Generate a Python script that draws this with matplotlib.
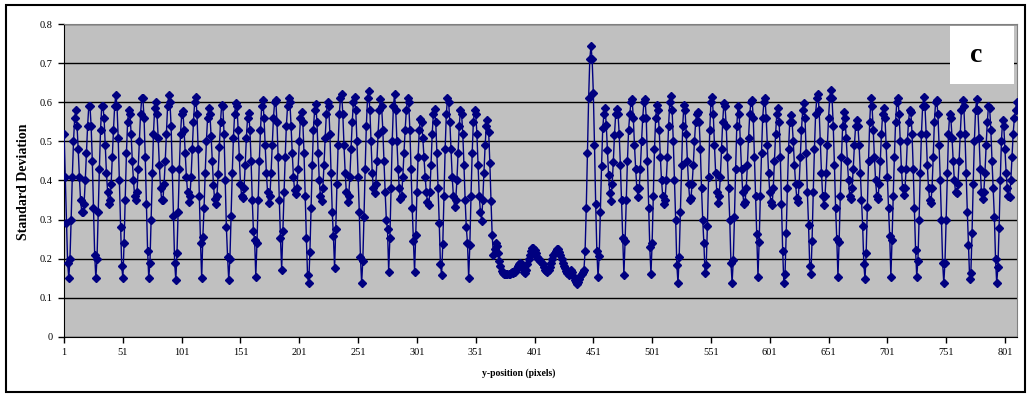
import numpy as np
import matplotlib
matplotlib.use('Agg')
import matplotlib.pyplot as plt
from matplotlib.patches import Rectangle

plt.rcParams['font.family'] = ['Liberation Serif', 'DejaVu Serif']

# standard deviation per y-position in blocks
sd_001_072 = [0.52, 0.41, 0.29, 0.19, 0.15, 0.20, 0.30, 0.41, 0.50, 0.56,
              0.58, 0.54, 0.48, 0.41, 0.35, 0.32, 0.32, 0.34, 0.40, 0.47,
              0.54, 0.59, 0.59, 0.54, 0.45, 0.33, 0.21, 0.15, 0.20, 0.32,
              0.43, 0.53, 0.59, 0.59, 0.56, 0.49, 0.42, 0.37, 0.34, 0.35,
              0.39, 0.46, 0.53, 0.59, 0.62, 0.59, 0.51, 0.40, 0.28, 0.18,
              0.15, 0.24, 0.35, 0.47, 0.55, 0.58, 0.57, 0.52, 0.45, 0.40,
              0.36, 0.35, 0.37, 0.43, 0.50, 0.57, 0.61, 0.61, 0.56, 0.46,
              0.34, 0.22]
sd_073_140 = [0.15, 0.19, 0.30, 0.42, 0.52, 0.585, 0.60, 0.57, 0.51, 0.44, 0.38, 0.35,
              0.35, 0.39, 0.45, 0.52, 0.59, 0.62, 0.60, 0.54, 0.43, 0.31, 0.19,
              0.145, 0.215, 0.32, 0.43, 0.52, 0.57, 0.578, 0.53, 0.47, 0.41, 0.37,
              0.346, 0.36, 0.41, 0.48, 0.55, 0.60, 0.613, 0.57, 0.48, 0.36, 0.24,
              0.15, 0.256, 0.33, 0.42, 0.50, 0.56, 0.585, 0.57, 0.514, 0.451, 0.389,
              0.352, 0.34, 0.36, 0.417, 0.487, 0.551, 0.594, 0.59, 0.52, 0.40, 0.28, 0.205]
sd_141_208 = [0.145, 0.20, 0.31, 0.42, 0.51, 0.57, 0.598, 0.59, 0.53, 0.46, 0.39, 0.36,
              0.354, 0.38, 0.44, 0.51, 0.56, 0.572, 0.53, 0.45, 0.35, 0.27, 0.248,
              0.154, 0.24, 0.35, 0.45, 0.53, 0.59, 0.605, 0.56, 0.49, 0.42, 0.37,
              0.343, 0.36, 0.42, 0.49, 0.56, 0.60, 0.605, 0.55, 0.46, 0.35, 0.252,
              0.172, 0.27, 0.37, 0.46, 0.54, 0.59, 0.61, 0.60, 0.54, 0.47, 0.41,
              0.375, 0.365, 0.38, 0.43, 0.50, 0.56, 0.575, 0.55, 0.47, 0.36, 0.254, 0.158]
sd_209_276 = [0.137, 0.216, 0.33, 0.44, 0.53, 0.58, 0.595, 0.55, 0.47, 0.40, 0.36,
              0.348, 0.38, 0.44, 0.51, 0.57, 0.60, 0.59, 0.52, 0.42, 0.32, 0.258,
              0.175, 0.277, 0.39, 0.49, 0.57, 0.61, 0.622, 0.57, 0.49, 0.42, 0.37,
              0.346, 0.36, 0.41, 0.48, 0.55, 0.60, 0.613, 0.58, 0.50, 0.41, 0.32, 0.203,
              0.137, 0.195, 0.307, 0.43, 0.54, 0.61, 0.628, 0.58, 0.50, 0.42, 0.38,
              0.369, 0.39, 0.45, 0.52, 0.58, 0.608, 0.59, 0.53, 0.45, 0.37, 0.30, 0.275]
sd_277_344 = [0.166, 0.252, 0.38, 0.50, 0.59, 0.621, 0.58, 0.50, 0.43, 0.38, 0.352,
              0.36, 0.41, 0.47, 0.53, 0.58, 0.61, 0.60, 0.53, 0.43, 0.33, 0.245,
              0.166, 0.26, 0.37, 0.46, 0.53, 0.557, 0.55, 0.51, 0.46, 0.41, 0.37,
              0.345, 0.337, 0.37, 0.44, 0.52, 0.57, 0.583, 0.55, 0.47, 0.38, 0.29, 0.186,
              0.158, 0.237, 0.36, 0.48, 0.57, 0.61, 0.60, 0.55, 0.48, 0.41, 0.36,
              0.333, 0.35, 0.40, 0.47, 0.54, 0.58, 0.57, 0.52, 0.44, 0.35, 0.28, 0.24]
sd_345_366 = [0.151, 0.235, 0.36, 0.47, 0.55, 0.58, 0.57, 0.52, 0.44, 0.36, 0.32,
              0.297, 0.35, 0.42, 0.49, 0.54, 0.555, 0.525, 0.446, 0.348, 0.26, 0.21]
sd_367_442 = [0.225, 0.24, 0.232, 0.215, 0.195, 0.18, 0.168, 0.162, 0.16, 0.16,
              0.16, 0.16, 0.16, 0.16, 0.162, 0.165, 0.162, 0.165, 0.17, 0.175,
              0.18, 0.185, 0.188, 0.185, 0.175, 0.165, 0.162, 0.17, 0.185, 0.20,
              0.21, 0.22, 0.226, 0.226, 0.222, 0.215, 0.205, 0.20, 0.198, 0.195,
              0.19, 0.185, 0.178, 0.172, 0.168, 0.166, 0.17, 0.178, 0.188, 0.198,
              0.208, 0.215, 0.22, 0.224, 0.224, 0.218, 0.21, 0.20, 0.19, 0.182,
              0.175, 0.168, 0.162, 0.158, 0.165, 0.172, 0.165, 0.155, 0.145, 0.14,
              0.136, 0.14, 0.148, 0.155, 0.16, 0.165]
sd_443_454 = [0.17, 0.22, 0.33, 0.47, 0.61, 0.71, 0.745, 0.71, 0.625, 0.49, 0.34, 0.22]
sd_455_522 = [0.152, 0.207, 0.32, 0.437, 0.534, 0.57, 0.585, 0.542, 0.478, 0.414, 0.367,
              0.348, 0.39, 0.448, 0.517, 0.57, 0.583, 0.57, 0.52, 0.44, 0.35, 0.254,
              0.158, 0.245, 0.35, 0.45, 0.53, 0.57, 0.60, 0.608, 0.56, 0.49, 0.43, 0.38,
              0.359, 0.38, 0.43, 0.50, 0.56, 0.60, 0.608, 0.56, 0.45, 0.33, 0.23,
              0.16, 0.24, 0.36, 0.48, 0.56, 0.593, 0.58, 0.53, 0.46, 0.40, 0.36,
              0.34, 0.35, 0.40, 0.46, 0.54, 0.60, 0.617, 0.58, 0.50, 0.40, 0.30, 0.184]
sd_523_590 = [0.137, 0.205, 0.32, 0.44, 0.54, 0.593, 0.58, 0.52, 0.45, 0.39, 0.35,
              0.355, 0.39, 0.44, 0.50, 0.55, 0.57, 0.576, 0.55, 0.48, 0.38, 0.30, 0.24,
              0.162, 0.184, 0.284, 0.41, 0.53, 0.60, 0.615, 0.57, 0.49, 0.42, 0.37,
              0.343, 0.36, 0.41, 0.48, 0.55, 0.598, 0.59, 0.54, 0.46, 0.38, 0.30, 0.19,
              0.138, 0.196, 0.306, 0.43, 0.54, 0.59, 0.57, 0.50, 0.43, 0.37, 0.34,
              0.345, 0.38, 0.44, 0.51, 0.57, 0.60, 0.606, 0.56, 0.46, 0.36, 0.263]
sd_591_658 = [0.154, 0.243, 0.36, 0.47, 0.56, 0.60, 0.61, 0.56, 0.49, 0.42, 0.37,
              0.345, 0.337, 0.38, 0.45, 0.52, 0.57, 0.585, 0.55, 0.46, 0.34, 0.22,
              0.137, 0.16, 0.265, 0.38, 0.48, 0.55, 0.568, 0.55, 0.50, 0.44, 0.39,
              0.355, 0.346, 0.39, 0.46, 0.53, 0.58, 0.598, 0.56, 0.47, 0.37, 0.286, 0.181,
              0.16, 0.246, 0.37, 0.48, 0.57, 0.61, 0.622, 0.58, 0.50, 0.42, 0.36,
              0.337, 0.36, 0.42, 0.49, 0.56, 0.61, 0.632, 0.61, 0.54, 0.44, 0.33, 0.25]
sd_659_725 = [0.154, 0.243, 0.36, 0.46, 0.54, 0.576, 0.56, 0.51, 0.45, 0.40, 0.36,
              0.353, 0.38, 0.43, 0.49, 0.54, 0.555, 0.54, 0.49, 0.42, 0.35, 0.284, 0.186,
              0.147, 0.215, 0.331, 0.45, 0.55, 0.61, 0.59, 0.53, 0.46, 0.40, 0.36,
              0.352, 0.39, 0.45, 0.52, 0.57, 0.585, 0.56, 0.49, 0.41, 0.33, 0.258,
              0.154, 0.248, 0.36, 0.46, 0.55, 0.60, 0.61, 0.57, 0.50, 0.43, 0.38,
              0.363, 0.38, 0.43, 0.50, 0.55, 0.58, 0.575, 0.52, 0.43, 0.329, 0.222]
sd_726_811 = [0.154, 0.195, 0.30, 0.42, 0.52, 0.59, 0.615, 0.59, 0.52, 0.44, 0.38,
              0.35, 0.343, 0.38, 0.46, 0.55, 0.60, 0.605, 0.57, 0.49, 0.40, 0.30, 0.19,
              0.137, 0.19, 0.30, 0.42, 0.52, 0.57, 0.56, 0.51, 0.45, 0.40, 0.37,
              0.367, 0.39, 0.45, 0.52, 0.58, 0.605, 0.59, 0.52, 0.42, 0.32, 0.235,
              0.147, 0.162, 0.265, 0.39, 0.50, 0.58, 0.608, 0.58, 0.51, 0.43, 0.37,
              0.352, 0.37, 0.42, 0.49, 0.55, 0.59, 0.585, 0.53, 0.45, 0.38, 0.307, 0.198,
              0.137, 0.178, 0.278, 0.40, 0.50, 0.555, 0.54, 0.48, 0.42, 0.38, 0.36,
              0.357, 0.40, 0.46, 0.52, 0.56, 0.58, 0.602]

std_dev = (sd_001_072 + sd_073_140 + sd_141_208 + sd_209_276 + sd_277_344 +
           sd_345_366 + sd_367_442 + sd_443_454 + sd_455_522 + sd_523_590 +
           sd_591_658 + sd_659_725 + sd_726_811)
y_pos = np.arange(1, len(std_dev) + 1)

x_ticks = list(range(1, 802, 50))
y_ticks = [0, 0.1, 0.2, 0.3, 0.4, 0.5, 0.6, 0.7, 0.8]
y_labels = ['0', '0.1', '0.2', '0.3', '0.4', '0.5', '0.6', '0.7', '0.8']

W, H = 1029, 397
fig = plt.figure(figsize=(W / 100, H / 100), dpi=100)
ax = fig.add_axes([63.5 / W, 1 - 336.7 / H, (1017.3 - 63.5) / W, (336.7 - 24.3) / H])
ax.set_facecolor('#c0c0c0')

ax.plot(y_pos, std_dev, color='#000080', lw=1, marker='D', ms=4,
        mfc='#000080', mec='#000080', zorder=3)

ax.set_xlim(0.5, len(std_dev) + 0.5)
ax.set_ylim(0, 0.8)
ax.set_yticks(y_ticks)
ax.set_yticklabels(y_labels)
ax.set_xticks(x_ticks)
ax.set_xticklabels([str(t) for t in x_ticks])
ax.yaxis.grid(True, color='black', lw=1)
ax.set_axisbelow(True)
ax.tick_params(direction='out', length=4, width=1, labelsize=7.5, pad=4)

for s in ['top', 'right']:
    ax.spines[s].set_color('#808080')
for s in ['left', 'bottom']:
    ax.spines[s].set_color('black')

# axis titles are centred on the whole chart box, as in the original
fig.text(519 / W, 1 - 373 / H, 'y-position (pixels)', fontsize=7,
         fontweight='bold', ha='center', va='center')
fig.text(24 / W, 1 - 182 / H, 'Standard Deviation', rotation=90, fontsize=10,
         fontweight='bold', ha='center', va='center')

# panel letter box
fig.patches.append(Rectangle((950 / W, 1 - 84 / H), 64 / W, 58 / H,
                             transform=fig.transFigure, facecolor='white',
                             edgecolor='none', zorder=5))
fig.text(976 / W, 1 - 55 / H, 'c', fontsize=20, fontweight='bold',
         ha='center', va='center', zorder=6)

# outer frame
fig.patches.append(Rectangle((6 / W, 5 / H), 1019 / W, 387 / H,
                             transform=fig.transFigure, facecolor='none',
                             edgecolor='black', lw=1.5))

fig.savefig('out.png', dpi=100)
